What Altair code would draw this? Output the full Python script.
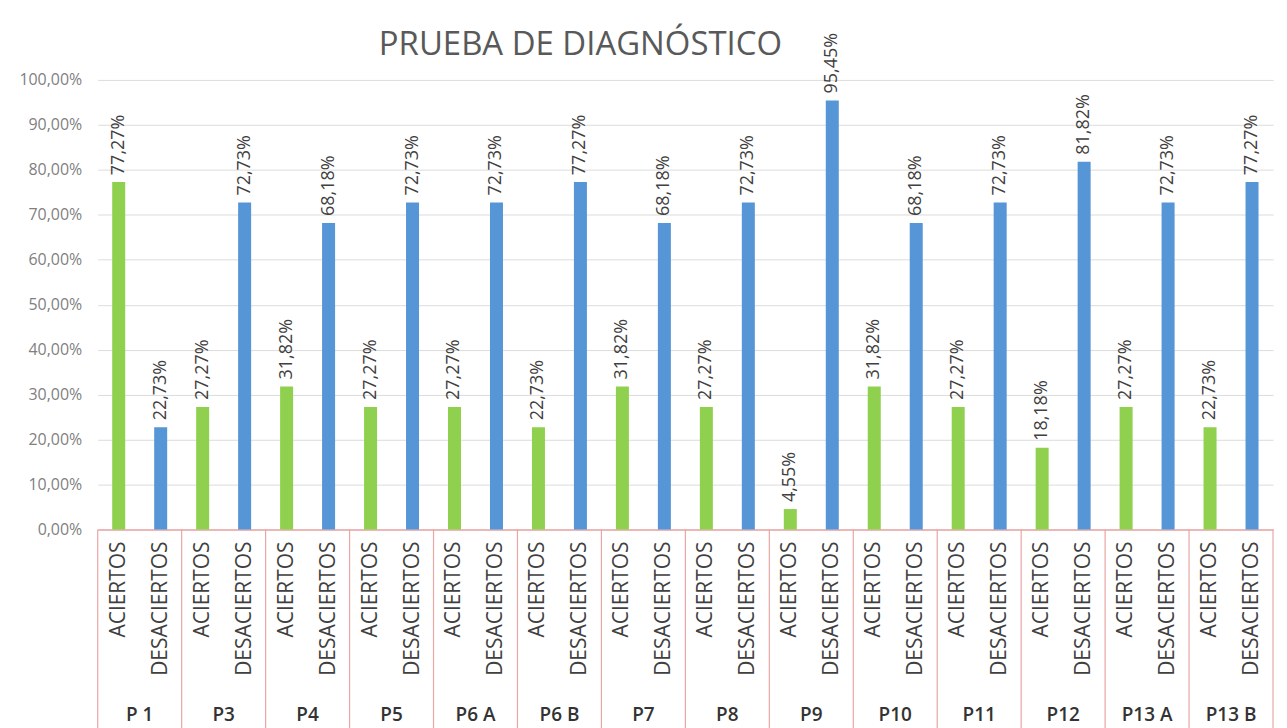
import altair as alt
import pandas as pd

grupos = ["P 1", "P3", "P4", "P5", "P6 A", "P6 B", "P7", "P8", "P9", "P10",
          "P11", "P12", "P13 A", "P13 B"]
tipos = ["ACIERTOS", "DESACIERTOS"]
aciertos = [77.27, 27.27, 31.82, 27.27, 27.27, 22.73, 31.82, 27.27, 4.55, 31.82,
            27.27, 18.18, 27.27, 22.73]
desaciertos = [22.73, 72.73, 68.18, 72.73, 72.73, 77.27, 68.18, 72.73, 95.45, 68.18,
               72.73, 81.82, 72.73, 77.27]
y_ticks = [0, 0.1, 0.2, 0.3, 0.4, 0.5, 0.6, 0.7, 0.8, 0.9, 1.0]

rows = []
for g, a, d in zip(grupos, aciertos, desaciertos):
    rows.append({"grupo": g, "tipo": tipos[0], "valor": a / 100})
    rows.append({"grupo": g, "tipo": tipos[1], "valor": d / 100})
df = pd.DataFrame(rows)
gdf = pd.DataFrame({"grupo": grupos})

W, H = 1179, 451
PINK = "#eaa5a5"
TXT = "#404040"

x_enc = alt.X("grupo:N", sort=grupos,
              scale=alt.Scale(paddingInner=0, paddingOuter=0),
              axis=alt.Axis(labels=False, ticks=False, title=None,
                            domainColor=PINK, domainWidth=1.5, grid=False))
xo_enc = alt.XOffset("tipo:N", sort=tipos,
                     scale=alt.Scale(paddingInner=0.69, paddingOuter=0.345))
y_enc = alt.Y("valor:Q", scale=alt.Scale(domain=[0, 1]),
              axis=alt.Axis(values=y_ticks, title=None, domain=False, ticks=False,
                            labelExpr="replace(format(datum.value, '.2%'), '.', ',')",
                            labelColor="#7f7f7f", labelFontSize=16, labelFont="Open Sans",
                            labelPadding=16, minExtent=75, maxExtent=75,
                            gridColor="#dcdcdc"))

base = alt.Chart(df)

bars = base.mark_bar().encode(
    x=x_enc, xOffset=xo_enc, y=y_enc,
    color=alt.Color("tipo:N", scale=alt.Scale(domain=tipos, range=["#8fd14f", "#5796d6"]),
                    legend=None),
)

vals = base.transform_calculate(
    etiqueta="replace(format(datum.valor, '.2%'), '.', ',')"
).mark_text(angle=270, align="left", baseline="middle", dx=7, fontSize=18,
            font="Open Sans", color=TXT).encode(
    x=x_enc, xOffset=xo_enc, y="valor:Q", text="etiqueta:N")

cats = base.mark_text(angle=270, align="right", baseline="middle", fontSize=21,
                      font="Open Sans", color=TXT).encode(
    x=x_enc, xOffset=xo_enc, y=alt.value(H + 12), text="tipo:N")

gbase = alt.Chart(gdf)
seps = gbase.mark_rule(color=PINK, strokeWidth=1.2).encode(
    x=alt.X("grupo:N", sort=grupos, bandPosition=0),
    y=alt.value(H), y2=alt.value(H + 200))
sep_end = gbase.transform_filter(alt.datum.grupo == grupos[-1]).mark_rule(
    color=PINK, strokeWidth=1.2).encode(
    x=alt.X("grupo:N", sort=grupos, bandPosition=1),
    y=alt.value(H), y2=alt.value(H + 200))
glabels = gbase.mark_text(fontSize=19, font="Open Sans", fontWeight=600,
                          color="#333333", baseline="middle").encode(
    x=alt.X("grupo:N", sort=grupos, bandPosition=0.5),
    y=alt.value(H + 186), text="grupo:N")

chart = alt.layer(bars, vals, cats, seps, sep_end, glabels).properties(
    width=W, height=H,
    title=alt.TitleParams("PRUEBA DE DIAGNÓSTICO", anchor="start", frame="group",
                          dx=282, fontSize=33, font="Open Sans", fontWeight="normal",
                          color="#595959", offset=-29),
    padding={"left": 10, "top": 19, "right": 5, "bottom": 5},
).configure_view(stroke=None).configure_axis(gridWidth=1)

chart.save("out.html", embed_options={"renderer": "svg", "actions": False})
